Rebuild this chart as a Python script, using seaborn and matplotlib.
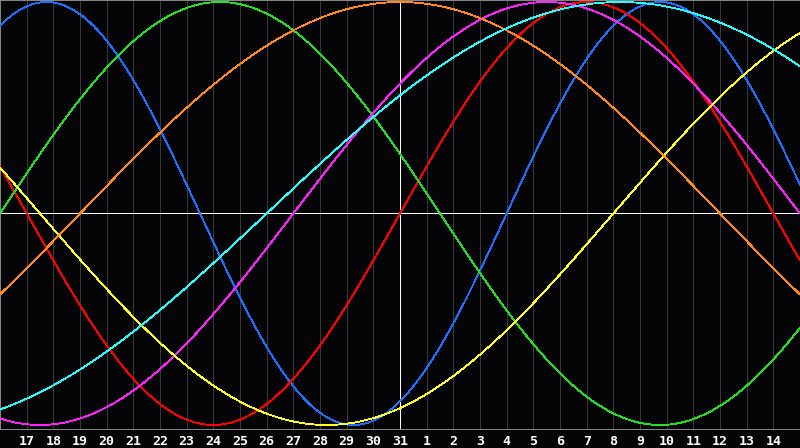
import numpy as np
import pandas as pd
import matplotlib
matplotlib.use("Agg")
import matplotlib.pyplot as plt
import seaborn as sns

# ---- data ----
cycle_names = ["Physical", "Emotional", "Intellectual", "Intuitive",
               "Aesthetic", "Awareness", "Spiritual"]
cycle_periods = [23, 28, 33, 38, 43, 48, 53]
days_since_birth_today = 18396          # age in days at the marked day (31)
day_offsets = list(range(-15, 16))       # days shown relative to today
day_labels = ["", "17", "18", "19", "20", "21", "22", "23", "24", "25", "26",
              "27", "28", "29", "30", "31", "1", "2", "3", "4", "5", "6", "7",
              "8", "9", "10", "11", "12", "13", "14", ""]

colors = ["#1f6fff", "#ff0000", "#22e022", "#ff22ff",
          "#ffff22", "#ff8a1a", "#22ffff"]

# ---- biorhythm curves ----
t = np.linspace(day_offsets[0], day_offsets[-1], 1201)
rows = []
for name, period in zip(cycle_names, cycle_periods):
    vals = np.sin(2 * np.pi * (days_since_birth_today + t) / period)
    rows.append(pd.DataFrame({"day": t, "value": vals, "cycle": name}))
df = pd.concat(rows, ignore_index=True)

sns.set_theme(style="dark")
plt.rcParams["font.family"] = ["DejaVu Sans Mono", "DejaVu Sans"]
plt.rcParams["lines.antialiased"] = False

fig = plt.figure(figsize=(8, 4.48), dpi=100, facecolor="#050508")
ax = fig.add_axes([0, 1 - 429 / 448, 1, 429 / 448])
ax.set_facecolor("#050508")

# grid lines per day
for d in day_offsets[1:-1]:
    if d == 0:
        ax.axvline(d, color="white", lw=0.6, zorder=2, antialiased=False)
    else:
        ax.axvline(d, color="#3a3a3a", lw=0.6, zorder=1, antialiased=False)
ax.axhline(0, color="white", lw=0.6, zorder=2, antialiased=False)

sns.lineplot(data=df, x="day", y="value", hue="cycle", hue_order=cycle_names,
             palette=colors, linewidth=0.6, ax=ax, legend=False, zorder=3)
for ln in ax.get_lines():
    ln.set_antialiased(False)

ax.set_xlim(day_offsets[0], day_offsets[-1])
ax.set_ylim(-1.019, 1.0095)
ax.set_xticks(day_offsets)
ax.set_xticklabels(day_labels, color="white", fontsize=9.5, fontweight="bold")
ax.tick_params(axis="x", length=0, pad=4)
ax.set_yticks([])
ax.set_xlabel("")
ax.set_ylabel("")
ax.grid(False)
for s in ax.spines.values():
    s.set_visible(True)
    s.set_color("#8a8a8a")
    s.set_linewidth(0.7)

fig.savefig("out.png", dpi=100, facecolor=fig.get_facecolor())
